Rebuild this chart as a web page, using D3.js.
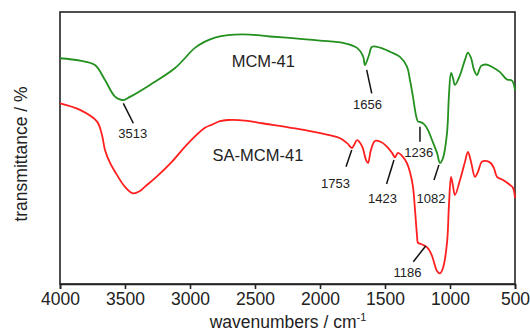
<!DOCTYPE html>
<html>
<head>
<meta charset="utf-8">
<script src="https://cdn.jsdelivr.net/npm/d3@7"></script>
<style>
  body { margin: 0; background: #fff; }
  text { font-family: "Liberation Sans", Arial, sans-serif; fill: #222; }
</style>
</head>
<body>
<div id="chart"></div>
<script>
// FTIR spectra, wavenumber (cm-1) vs transmittance (arbitrary units)
var mcmWave = [4000, 3846, 3731, 3654, 3577, 3515, 3462, 3308, 3115, 2962, 2885, 2808, 2708, 2538, 2385, 2192, 2000, 1808, 1715, 1669, 1654, 1623, 1600, 1538, 1462, 1385, 1331, 1308, 1285, 1262, 1246, 1231, 1200, 1169, 1138, 1100, 1077, 1054, 1023, 1008, 992, 977, 962, 923, 885, 862, 838, 815, 792, 762, 723, 669, 615, 562, 523, 500];
var mcmValues = [83.0, 82.1, 80.5, 75.0, 68.9, 67.6, 68.8, 73.2, 79.4, 86.8, 89.1, 90.6, 91.5, 91.7, 91.0, 90.3, 89.5, 88.5, 86.8, 83.8, 80.5, 84.2, 87.2, 86.9, 85.4, 83.5, 79.9, 75.0, 68.9, 62.1, 59.7, 59.6, 58.8, 56.6, 52.9, 48.2, 44.5, 46.3, 55.5, 69.5, 77.6, 75.7, 73.2, 76.8, 82.4, 85.1, 83.1, 78.7, 76.8, 80.1, 80.7, 79.6, 77.9, 75.2, 74.8, 71.3];

var saWave = [4000, 3846, 3715, 3677, 3654, 3615, 3577, 3500, 3438, 3385, 3346, 3269, 3138, 3015, 2885, 2831, 2769, 2708, 2577, 2446, 2192, 1938, 1846, 1792, 1754, 1738, 1715, 1677, 1646, 1631, 1608, 1577, 1531, 1485, 1446, 1423, 1400, 1369, 1331, 1308, 1285, 1269, 1254, 1246, 1223, 1200, 1169, 1138, 1100, 1077, 1054, 1023, 1008, 992, 977, 962, 923, 885, 862, 838, 808, 785, 754, 715, 685, 662, 638, 592, 538, 515, 500];
var saValues = [66.4, 64.0, 59.7, 54.8, 49.3, 44.5, 41.3, 35.7, 33.3, 34.2, 35.8, 38.9, 45.0, 51.7, 57.4, 58.6, 59.9, 60.3, 60.1, 59.1, 57.2, 54.8, 53.6, 51.8, 50.0, 51.1, 52.9, 50.7, 45.6, 44.5, 49.3, 52.6, 52.2, 50.5, 48.2, 46.6, 48.2, 47.1, 44.4, 41.2, 35.8, 27.2, 18.0, 15.1, 14.7, 14.2, 13.1, 10.3, 4.8, 3.9, 5.9, 15.1, 29.0, 39.4, 36.0, 32.7, 38.2, 44.9, 48.6, 44.9, 39.4, 41.2, 45.0, 45.2, 44.4, 42.6, 39.4, 38.2, 36.4, 35.3, 31.6];

var seriesNames = ["MCM-41", "SA-MCM-41"];
var seriesColors = ["#23901f", "#ff1f1f"];
var nameWave = [2436, 2477];
var nameValue = [79.9, 45.3];

var xTicks = [4000, 3500, 3000, 2500, 2000, 1500, 1000, 500];

// peak labels: label, leader start (wave, value), leader end, text position
var peakLabels = ["3513", "1656", "1236", "1082", "1753", "1423", "1186"];
var peakStart = [[3513, 66.4], [1641, 78.7], [1231, 57.8], [1085, 43.8], [1756, 49.3], [1431, 45.6], [1187, 14.0]];
var peakEnd = [[3436, 59.1], [1602, 70.1], [1231, 52.3], [1123, 38.2], [1800, 43.1], [1488, 36.8], [1282, 8.2]];
var peakText = [[3441, 53.8], [1635, 64.3], [1241, 46.6], [1146, 29.9], [1881, 35.2], [1519, 29.7], [1327, 2.7]];

(function() {

    var w = 530, h = 332;
    var padLeft = 60, padRight = 515, padTop = 12, padBottom = 284;

    var svg = d3.select("#chart").append("svg")
        .attr("width", w)
        .attr("height", h);

    var x = d3.scaleLinear().domain([4000, 500]).range([padLeft, padRight]);
    var y = d3.scaleLinear().domain([0, 100]).range([padBottom, padTop]);

    // frame
    svg.append("rect")
        .attr("x", padLeft)
        .attr("y", padTop)
        .attr("width", padRight - padLeft)
        .attr("height", padBottom - padTop)
        .style("fill", "none")
        .style("stroke", "#222")
        .style("stroke-width", 1.6);

    var xAxis = svg.append("g")
        .attr("transform", "translate(0," + padBottom + ")")
        .call(d3.axisBottom(x).tickValues(xTicks).tickSize(5).tickPadding(4).tickFormat(d3.format("d")));
    xAxis.select(".domain").style("stroke", "#222").style("stroke-width", 1.6);
    xAxis.selectAll(".tick line").style("stroke", "#222").style("stroke-width", 1.6);
    xAxis.selectAll(".tick text")
        .style("font-size", "17.5px")
        .style("font-family", "'Liberation Sans', Arial, sans-serif")
        .style("fill", "#222");

    var line = d3.line()
        .x(function(d) { return x(d[0]); })
        .y(function(d) { return y(d[1]); })
        .curve(d3.curveCatmullRom.alpha(0.5));

    var series = [d3.zip(mcmWave, mcmValues), d3.zip(saWave, saValues)];

    series.forEach(function(s, i) {
        svg.append("path")
            .datum(s)
            .attr("d", line)
            .style("fill", "none")
            .style("stroke", seriesColors[i])
            .style("stroke-width", 1.8)
            .style("stroke-linejoin", "round");

        svg.append("text")
            .attr("x", x(nameWave[i]))
            .attr("y", y(nameValue[i]))
            .attr("text-anchor", "middle")
            .style("font-size", "16.5px")
            .text(seriesNames[i]);
    });

    // peak leaders and labels
    peakLabels.forEach(function(lbl, i) {
        svg.append("line")
            .attr("x1", x(peakStart[i][0]))
            .attr("y1", y(peakStart[i][1]))
            .attr("x2", x(peakEnd[i][0]))
            .attr("y2", y(peakEnd[i][1]))
            .style("stroke", "#111")
            .style("stroke-width", 1.5);

        svg.append("text")
            .attr("x", x(peakText[i][0]))
            .attr("y", y(peakText[i][1]))
            .attr("text-anchor", "middle")
            .style("font-size", "13px")
            .text(lbl);
    });

    // axis titles
    var xTitle = svg.append("text")
        .attr("x", 288)
        .attr("y", 328)
        .attr("text-anchor", "middle")
        .style("font-size", "17.5px");
    xTitle.append("tspan").text("wavenumbers / cm");
    xTitle.append("tspan")
        .attr("dy", -7)
        .style("font-size", "11px")
        .text("-1");

    svg.append("text")
        .attr("transform", "translate(27,154) rotate(-90)")
        .attr("text-anchor", "middle")
        .style("font-size", "17.5px")
        .text("transmittance / %");

})();
</script>
</body>
</html>
